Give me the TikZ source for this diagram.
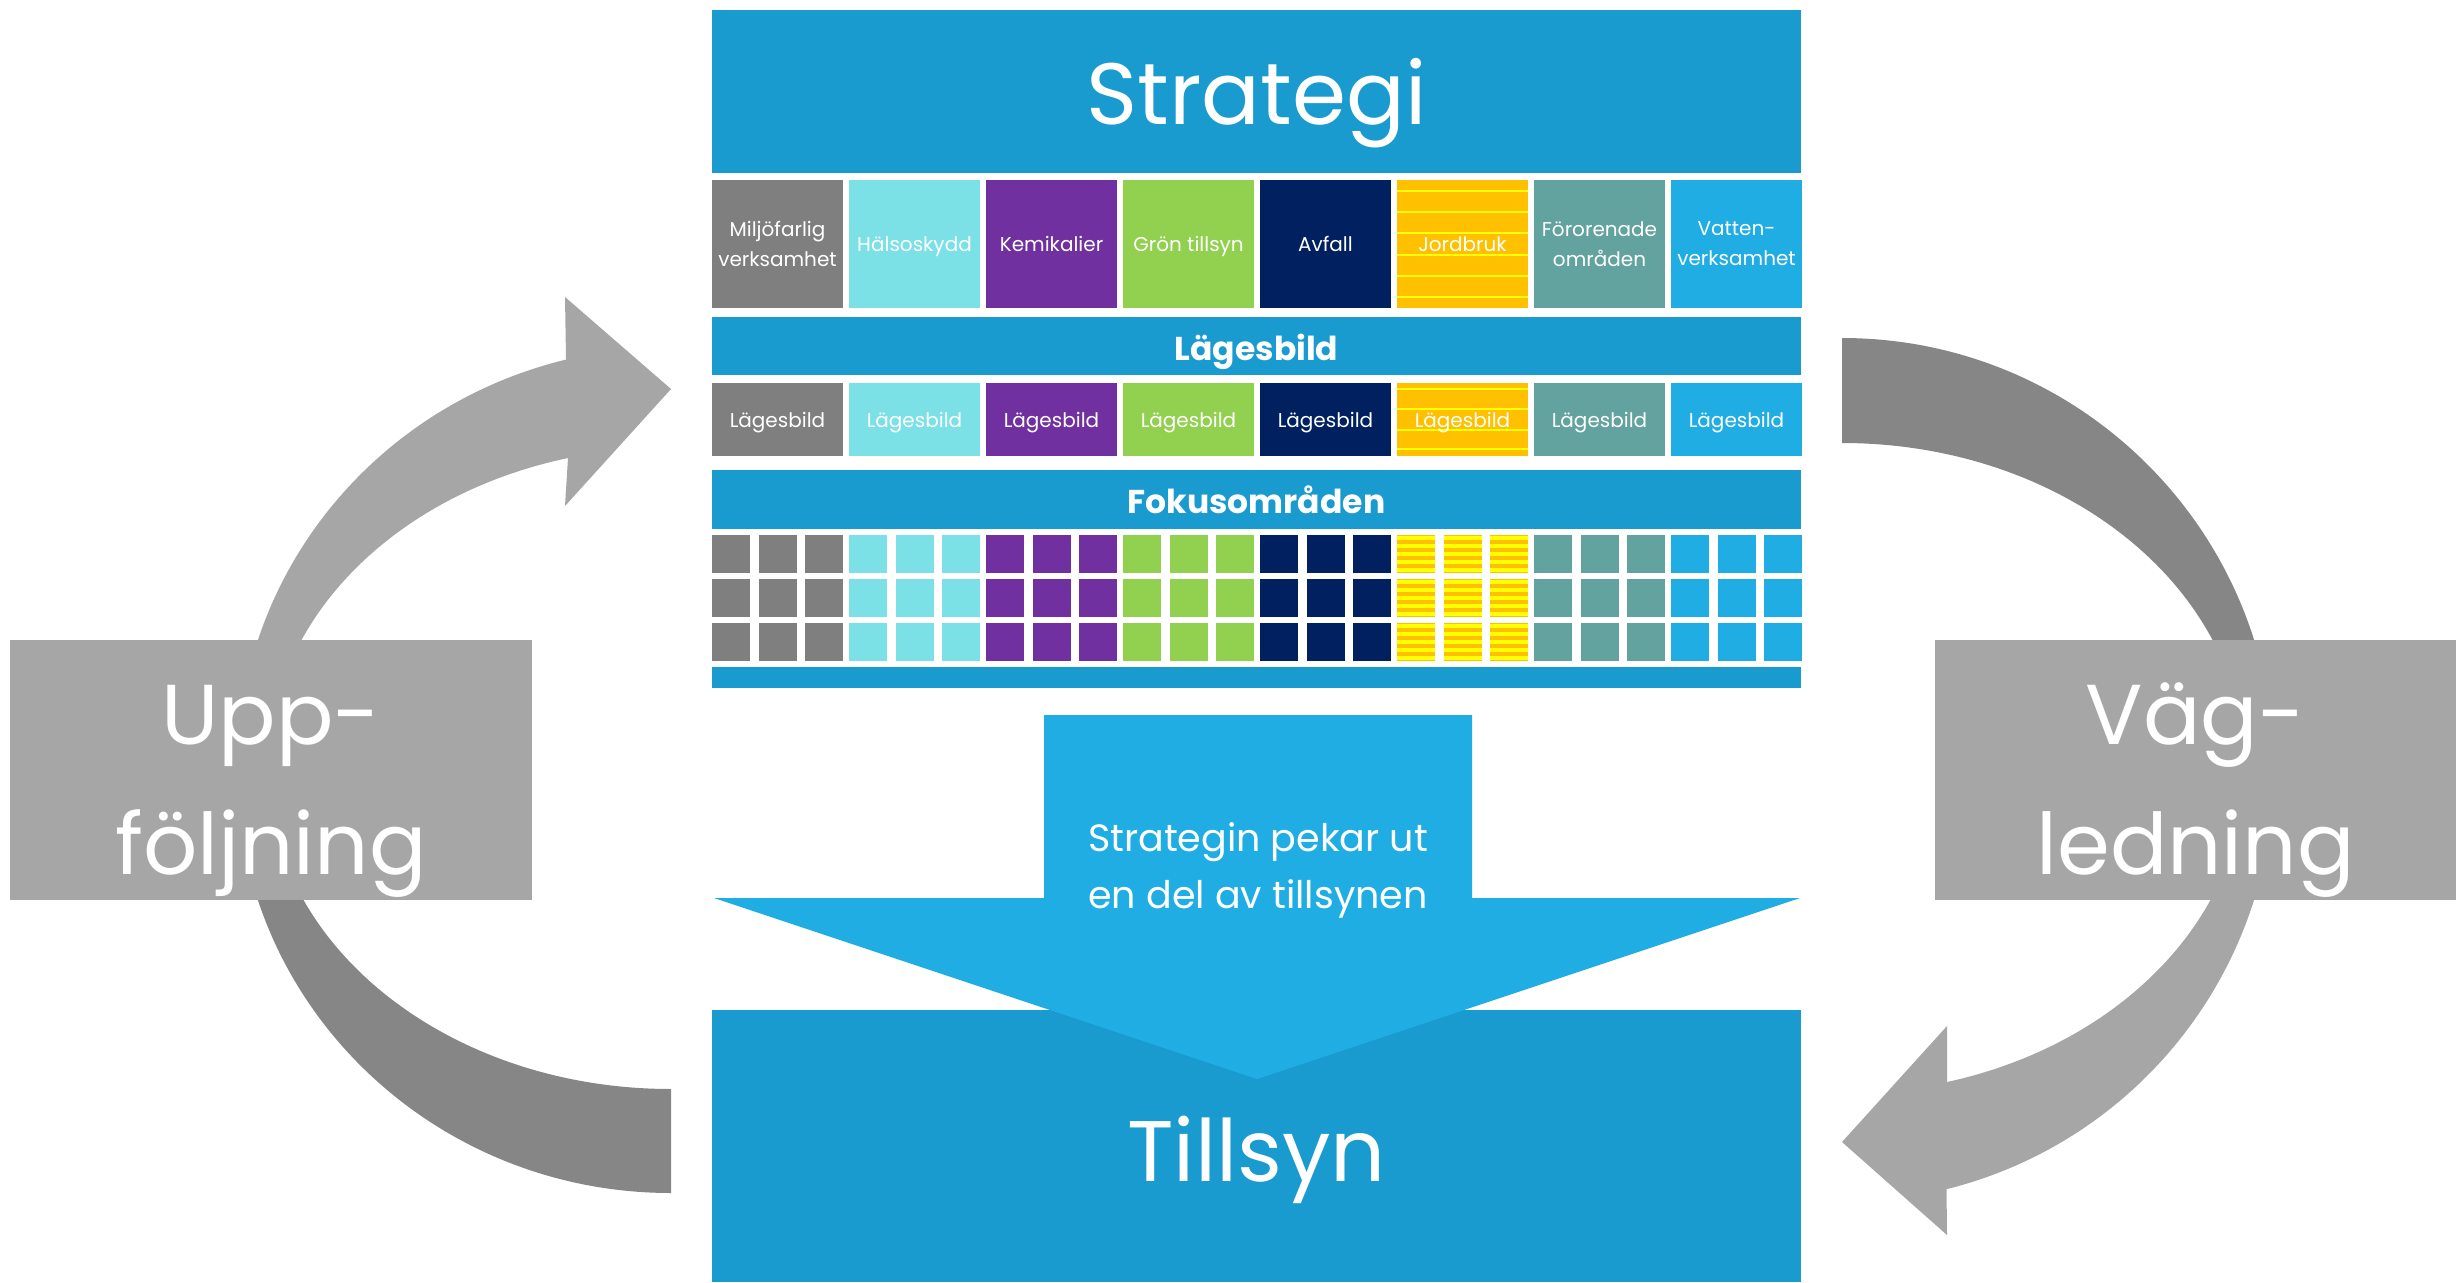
\documentclass[tikz,border=0pt]{standalone}
\usepackage{fontspec}
\setmainfont{Poppins}
\newcommand{\storlek}[2]{\fontsize{#1}{#2}\selectfont}

\definecolor{stratblue}{HTML}{1A9BD0}
\definecolor{pilblue}{HTML}{1FADE3}
\definecolor{miljo}{HTML}{7F7F7F}
\definecolor{halsa}{HTML}{7BE1E6}
\definecolor{kemi}{HTML}{7030A0}
\definecolor{gron}{HTML}{92D050}
\definecolor{avfall}{HTML}{002060}
\definecolor{jord}{HTML}{FFC000}
\definecolor{jordlinje}{HTML}{FFFF00}
\definecolor{fororen}{HTML}{62A39F}
\definecolor{vatten}{HTML}{1FADE3}
\definecolor{pilljus}{HTML}{A6A6A6}
\definecolor{pilmork}{HTML}{868686}

\begin{document}
\begin{tikzpicture}
        [x=1pt,y=-1pt,text=white,
         every node/.style={inner sep=0pt,outer sep=0pt},
         bar/.style={fill=stratblue,minimum width=1089pt},
         rubrik/.style={font=\bfseries\storlek{33}{40},text height=28pt,text depth=0pt},
         kat/.style={minimum width=131pt,minimum height=128pt,align=center,font=\storlek{20}{30},text depth=0pt},
         lage/.style={minimum width=131pt,minimum height=73pt,font=\storlek{20}{30},text height=16pt,text depth=0pt},
         grabox/.style={fill=pilljus,minimum height=260pt},
         stortext/.style={font=\storlek{85}{100},anchor=base},
         pektext/.style={font=\storlek{38}{46},anchor=base},
         randig/.style={path picture={\foreach \lin in {#1}
           \draw[jordlinje,line width=2pt] ([yshift=-\lin pt]path picture bounding box.north west)
             -- ([yshift=-\lin pt]path picture bounding box.north east);}}]
        \fill[white] (0,0) rectangle (2459,1282);
        \useasboundingbox (0,0) rectangle (2459,1282);

        % left arrow
        \fill[pilljus] (237,770) arc[start angle=180,end angle=256,x radius=434,y radius=423]
          -- (565,297) -- (671,389) -- (565,506)
          -- (568,458) arc[start angle=255.2,end angle=180,x radius=403,y radius=321] -- cycle;
        \fill[pilmork] (237,770) arc[start angle=180,end angle=90,x radius=434,y radius=423]
          -- (671,1089) arc[start angle=90,end angle=180,x radius=403,y radius=321] -- cycle;
        % right arrow
        \fill[pilmork] (1842,338) arc[start angle=270,end angle=360,radius=432]
          -- (2245,768) arc[start angle=0,end angle=-90,x radius=403,y radius=325] -- cycle;
        \fill[pilljus] (2274,770) arc[start angle=0,end angle=76,radius=432]
          -- (1947,1235) -- (1842,1142) -- (1947,1026)
          -- (1947,1082) arc[start angle=74.9,end angle=0,x radius=403,y radius=325] -- cycle;

        % the grey boxes
        \node[grabox,minimum width=522pt] (uppbox) at (271,770) {};
        \node[grabox,minimum width=521pt] (vagbox) at (2195.5,770) {};
        \node[stortext] (upp1) at (271,744) {Upp-};
        \node[stortext] (upp2) at (271,874) {följning};
        \node[stortext] (vag1) at (2195.5,744) {Väg-};
        \node[stortext] (vag2) at (2195.5,874) {ledning};

        % strategy column
        \node[bar,minimum height=163pt,font=\storlek{87}{100},text height=65pt,text depth=0pt] (strategi) at (1256.5,91.5) {Strategi};
        \node[kat,fill=miljo] (miljo) at (777.5,244) {Miljöfarlig\\verksamhet};
        \node[kat,fill=halsa] (halsa) at (914.5,244) {Hälsoskydd};
        \node[kat,fill=kemi] (kemi) at (1051.5,244) {Kemikalier};
        \node[kat,fill=gron] (gron) at (1188.5,244) {Grön tillsyn};
        \node[kat,fill=avfall] (avfall) at (1325.5,244) {Avfall};
        \node[kat,fill=jord,randig={11,32,53,75,96,117}] (jord) at (1462.5,244) {Jordbruk};
        \node[kat,fill=fororen] (fororen) at (1599.5,244) {Förorenade\\områden};
        \node[kat,fill=vatten] (vatten) at (1736.5,244) {Vatten-\\verksamhet};

        \node[bar,rubrik,minimum height=58pt] (lagesbild) at (1256.5,346) {Lägesbild};
        \node[bar,rubrik,minimum height=59pt] (fokus) at (1256.5,499.5) {Fokusområden};
        \node[bar,minimum height=21pt] (botten) at (1256.5,677.5) {};

        \foreach \farg [count=\i from 0] in {miljo,halsa,kemi,gron,avfall,jord,fororen,vatten}{
          \ifnum\i=5
            \tikzset{rand/.style={randig={6,26,47,66}}}
          \else
            \tikzset{rand/.style={}}
          \fi
          \node[lage,fill=\farg,rand] (lage\i) at (777.5+137*\i,419.5) {Lägesbild};
          \foreach \r in {0,1,2}
            \foreach \j in {0,1,2}{
              \fill[\farg] (712+137*\i+46.5*\j,535+44*\r) rectangle ++(38,38);
              \ifnum\i=5
                \foreach \s in {0,...,4}
                  \fill[jordlinje] (712+137*\i+46.5*\j,536+44*\r+8*\s) rectangle ++(38,4);
              \fi}
        }

        % tillsyn and the big arrow
        \node[bar,minimum height=272pt,font=\storlek{86}{100},text height=70pt,text depth=0pt] (tillsyn) at (1256.5,1146) {Tillsyn};
        \fill[pilblue] (1044,715) -- (1472,715) -- (1472,898) -- (1800,898)
          -- (1257,1079) -- (714,898) -- (1044,898) -- cycle;
        \node[pektext] (pek1) at (1258,851) {Strategin pekar ut};
        \node[pektext] (pek2) at (1258,908) {en del av tillsynen};
    \end{tikzpicture}
\end{document}
